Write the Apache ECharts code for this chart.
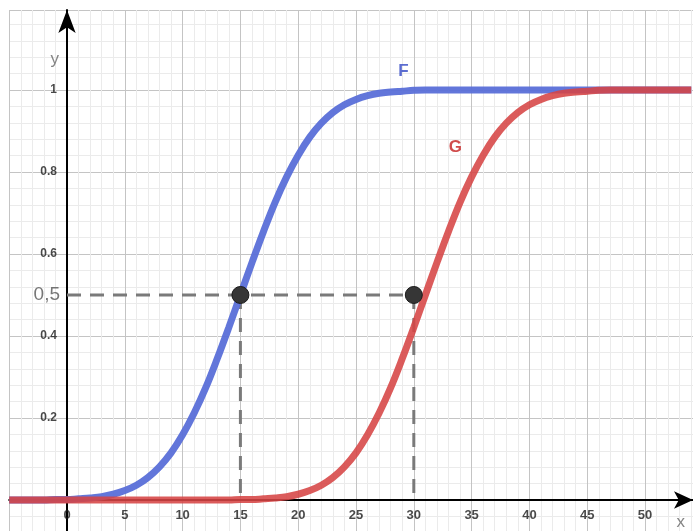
<!DOCTYPE html>
<html>
<head>
<meta charset="utf-8">
<script src="https://cdn.jsdelivr.net/npm/echarts@6/dist/echarts.min.js"></script>
<style>html,body{margin:0;padding:0;background:#fff}#c{width:693px;height:531px}</style>
</head>
<body>
<div id="c"></div>
<script>
// ---- data ----
var xs = [-5,-4,-3,-2,-1,0,1,2,3,4,5,6,7,8,9,10,11,12,13,14,15,16,17,18,19,20,21,22,23,24,25,26,27,28,29,30,31,32,33,34,35,36,37,38,39,40,41,42,43,44,45,46,47,48,49,50,51,52,53,54];
var F = [0,0,0,0,0.001,0.001,0.003,0.005,0.008,0.014,0.023,0.036,0.055,0.081,0.115,0.159,0.212,0.274,0.345,0.421,0.5,0.579,0.655,0.726,0.788,0.841,0.885,0.919,0.945,0.964,0.977,0.986,0.992,0.995,0.997,0.999,1,1,1,1,1,1,1,1,1,1,1,1,1,1,1,1,1,1,1,1,1,1,1,1];
var G = [0,0,0,0,0,0,0,0,0,0,0,0,0,0,0,0,0,0,0,0,0.001,0.001,0.003,0.005,0.008,0.014,0.023,0.036,0.055,0.081,0.115,0.159,0.212,0.274,0.345,0.421,0.5,0.579,0.655,0.726,0.788,0.841,0.885,0.919,0.945,0.964,0.977,0.986,0.992,0.995,0.997,0.999,1,1,1,1,1,1,1,1];
var xTickLabels = [0, 5, 10, 15, 20, 25, 30, 35, 40, 45, 50];
var yTickLabels = [0.2, 0.4, 0.6, 0.8, 1];
var medianPoints = [[15, 0.5], [30, 0.5]];
var hDash = [[0, 0.5], [30, 0.5]];
var vDashF = [[15, 0.5], [15, 0]];
var vDashG = [[30, 0.5], [30, 0]];
var yMarkLabel = '0,5';
var curveLabels = [{name: 'F', pos: [29.1, 1.045]}, {name: 'G', pos: [33.6, 0.86]}];
var axisNames = [{name: 'y', pos: [-1.05, 1.075]}, {name: 'x', pos: [53.1, -0.055]}];

function zip(a, b) { return a.map(function (v, i) { return [v, b[i]]; }); }

var chart = echarts.init(document.getElementById('c'), null, {renderer: 'canvas'});
var dashStyle = {color: '#7a7a7a', width: 3, type: [14, 9]};
var FONT = 'Liberation Sans, Arial, sans-serif';
var option = {
  animation: false,
  backgroundColor: '#ffffff',
  grid: {left: 9.2, right: 0, top: 10, bottom: -51, containLabel: false, outerBoundsMode: 'none'},
  xAxis: {
    type: 'value', min: -5, max: 54.15, interval: 5,
    axisLine: {onZero: true, lineStyle: {color: '#000', width: 2}, symbol: ['none', 'arrow'], symbolSize: [13, 19]},
    axisTick: {show: false},
    axisLabel: {show: false},
    splitLine: {show: true, lineStyle: {color: '#c4c4c4', width: 1}},
    minorTick: {show: false, splitNumber: 5},
    minorSplitLine: {show: true, lineStyle: {color: '#ebebeb', width: 1}}
  },
  yAxis: {
    type: 'value', min: -0.2, max: 1.195, interval: 0.2,
    axisLine: {onZero: true, lineStyle: {color: '#000', width: 2}, symbol: ['none', 'arrow'], symbolSize: [13, 23]},
    axisTick: {show: false},
    axisLabel: {show: false},
    splitLine: {show: true, lineStyle: {color: '#c4c4c4', width: 1}},
    minorTick: {show: false, splitNumber: 5},
    minorSplitLine: {show: true, lineStyle: {color: '#ebebeb', width: 1}}
  },
  series: [
    {type: 'line', data: hDash, showSymbol: false, lineStyle: dashStyle, z: 1, silent: true},
    {type: 'line', data: vDashF, showSymbol: false, lineStyle: dashStyle, z: 1, silent: true},
    {type: 'line', data: vDashG, showSymbol: false, lineStyle: dashStyle, z: 1, silent: true},
    {type: 'line', data: zip(xs, F), smooth: 0.4, showSymbol: false, z: 2,
      lineStyle: {color: '#5a6fd8', width: 7, opacity: 0.95}},
    {type: 'line', data: zip(xs, G), smooth: 0.4, showSymbol: false, z: 3,
      lineStyle: {color: '#d64444', width: 7, opacity: 0.88}},
    {type: 'scatter', data: medianPoints, symbolSize: 17, z: 5,
      itemStyle: {color: '#363636', borderColor: '#1a1a1a', borderWidth: 1, opacity: 1}},
    {type: 'scatter', data: xTickLabels.map(function (v) { return [v, 0]; }), symbolSize: 0, z: 6, silent: true,
      label: {show: true, position: 'bottom', distance: 9, formatter: function (p) { return String(p.value[0]); },
        color: '#1a1a1a', fontSize: 13, fontWeight: 'bold', fontFamily: FONT}},
    {type: 'scatter', data: yTickLabels.map(function (v) { return [0, v]; }), symbolSize: 0, z: 6, silent: true,
      label: {show: true, position: 'left', distance: 10, formatter: function (p) { return String(p.value[1]); },
        color: '#1a1a1a', fontSize: 12, fontWeight: 'bold', fontFamily: FONT}},
    {type: 'scatter', data: [[0, 0.5]], symbolSize: 0, z: 6,
      label: {show: true, position: 'left', distance: 7, formatter: yMarkLabel, color: '#555', fontSize: 19, fontFamily: FONT}},
    {type: 'scatter', data: [curveLabels[0].pos], symbolSize: 0, z: 6,
      label: {show: true, position: 'inside', formatter: curveLabels[0].name, color: '#3349c4', fontSize: 17, fontWeight: 'bold', fontFamily: FONT}},
    {type: 'scatter', data: [curveLabels[1].pos], symbolSize: 0, z: 6,
      label: {show: true, position: 'inside', formatter: curveLabels[1].name, color: '#c41f1f', fontSize: 17, fontWeight: 'bold', fontFamily: FONT}},
    {type: 'scatter', data: [axisNames[0].pos], symbolSize: 0, z: 6,
      label: {show: true, position: 'inside', formatter: axisNames[0].name, color: '#666', fontSize: 17, fontFamily: FONT}},
    {type: 'scatter', data: [axisNames[1].pos], symbolSize: 0, z: 6,
      label: {show: true, position: 'inside', formatter: axisNames[1].name, color: '#666', fontSize: 17, fontFamily: FONT}}
  ]
};
chart.setOption(option);
</script>
</body>
</html>
